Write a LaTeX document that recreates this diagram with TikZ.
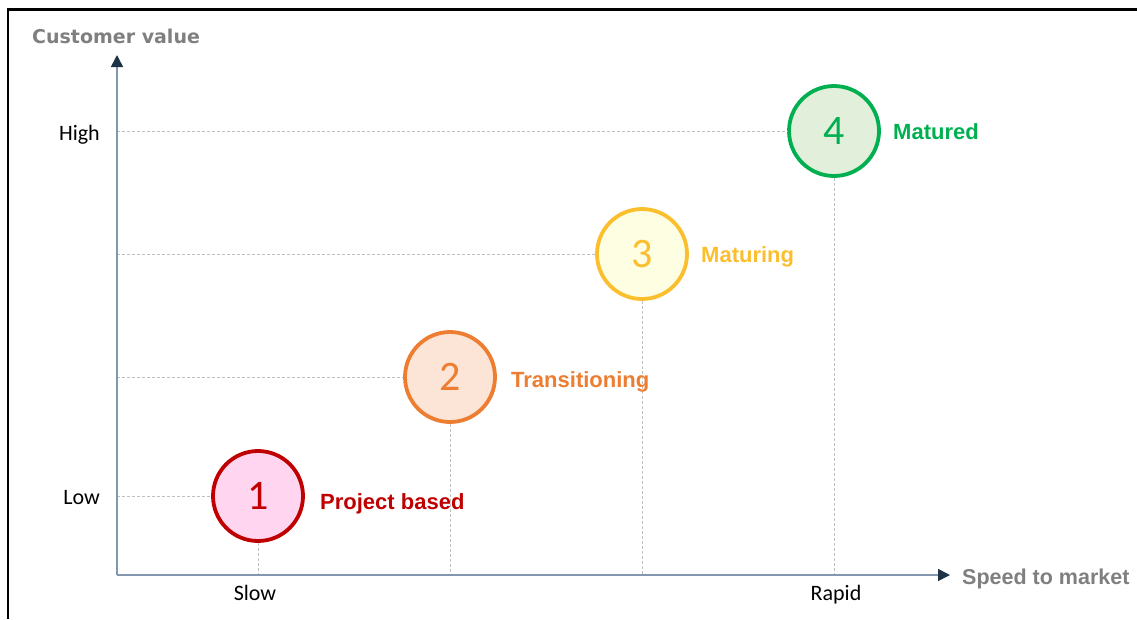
\documentclass[tikz,border=0pt]{standalone}
\usepackage{fontspec}
\setmainfont{Carlito}
\newfontfamily\arialb{Liberation Sans}[BoldFont={Liberation Sans Bold}]
\newfontfamily\dejab{DejaVu Sans Bold}
\usetikzlibrary{arrows.meta}
\definecolor{axisc}{HTML}{8497B0}
\definecolor{tipc}{HTML}{1F3347}
\definecolor{gridc}{HTML}{BFBFBF}
\definecolor{titlec}{HTML}{7F7F7F}
\definecolor{redc}{HTML}{C00000}
\definecolor{redf}{HTML}{FFD5F0}
\definecolor{orc}{HTML}{ED7D31}
\definecolor{orf}{HTML}{FCE4D6}
\definecolor{yelc}{HTML}{FBBF2E}
\definecolor{yelf}{HTML}{FEFEE2}
\definecolor{grc}{HTML}{00B050}
\definecolor{grf}{HTML}{E2EFDA}
\begin{document}
\begin{tikzpicture}[x=1pt,y=-1pt,
  axis/.style={draw=axisc,line width=1.5pt,-{Triangle[length=12pt,width=12pt,color=tipc]}},
  grid/.style={draw=gridc,line width=0.8pt,dash pattern=on 3pt off 2pt},
  stage/.style={circle,minimum size=90pt,inner sep=0pt,line width=3.8pt,font=\fontsize{42}{42}\selectfont},
  tick/.style={font=\fontsize{22}{22}\selectfont,text=black,inner sep=0pt,anchor=base},
  lab/.style={font=\arialb\bfseries\fontsize{22}{22}\selectfont,anchor=base west,inner sep=0pt},
  ttl/.style={text=titlec,inner sep=0pt,anchor=base west}]
\useasboundingbox (0,0) rectangle (1137,619);
\draw[line width=2.5pt] (8,619) -- (8,9.5) -- (1137,9.5);
% axes
\coordinate (O) at (117,575);
\coordinate (Ytip) at (117,55);
\coordinate (Xtip) at (950,575);
% circles
\node[stage,draw=redc,fill=redf,text=redc] (c1) at (258,496) {1};
\node[stage,draw=orc,fill=orf,text=orc] (c2) at (450,377) {2};
\node[stage,draw=yelc,fill=yelf,text=yelc] (c3) at (642,254) {3};
\node[stage,draw=grc,fill=grf,text=grc] (c4) at (834,131) {4};
% grid
\foreach \c in {c1,c2,c3,c4}{
  \draw[grid] (O |- \c.west) -- (\c.west);
  \draw[grid] (\c.south) -- (\c.south |- O);
}
\draw[axis] (O) -- (Ytip);
\draw[axis] (O) -- (Xtip);
% labels
\node[ttl,font=\dejab\fontsize{19}{19}\selectfont] (yt) at (32,43) {Customer value};
\node[ttl,font=\arialb\bfseries\fontsize{21.5}{21.5}\selectfont] (xt) at (962,584) {Speed to market};
\node[tick,anchor=base east] (hi) at (100,140) {High};
\node[tick,anchor=base east] (lo) at (100,504) {Low};
\node[tick] (slow) at (255,600) {Slow};
\node[tick] (rapid) at (836,600) {Rapid};
\node[lab,text=redc] (l1) at (320,509) {Project based};
\node[lab,text=orc] (l2) at (511,387) {Transitioning};
\node[lab,text=yelc] (l3) at (701,262) {Maturing};
\node[lab,text=grc] (l4) at (893,139) {Matured};
\end{tikzpicture}
\end{document}
